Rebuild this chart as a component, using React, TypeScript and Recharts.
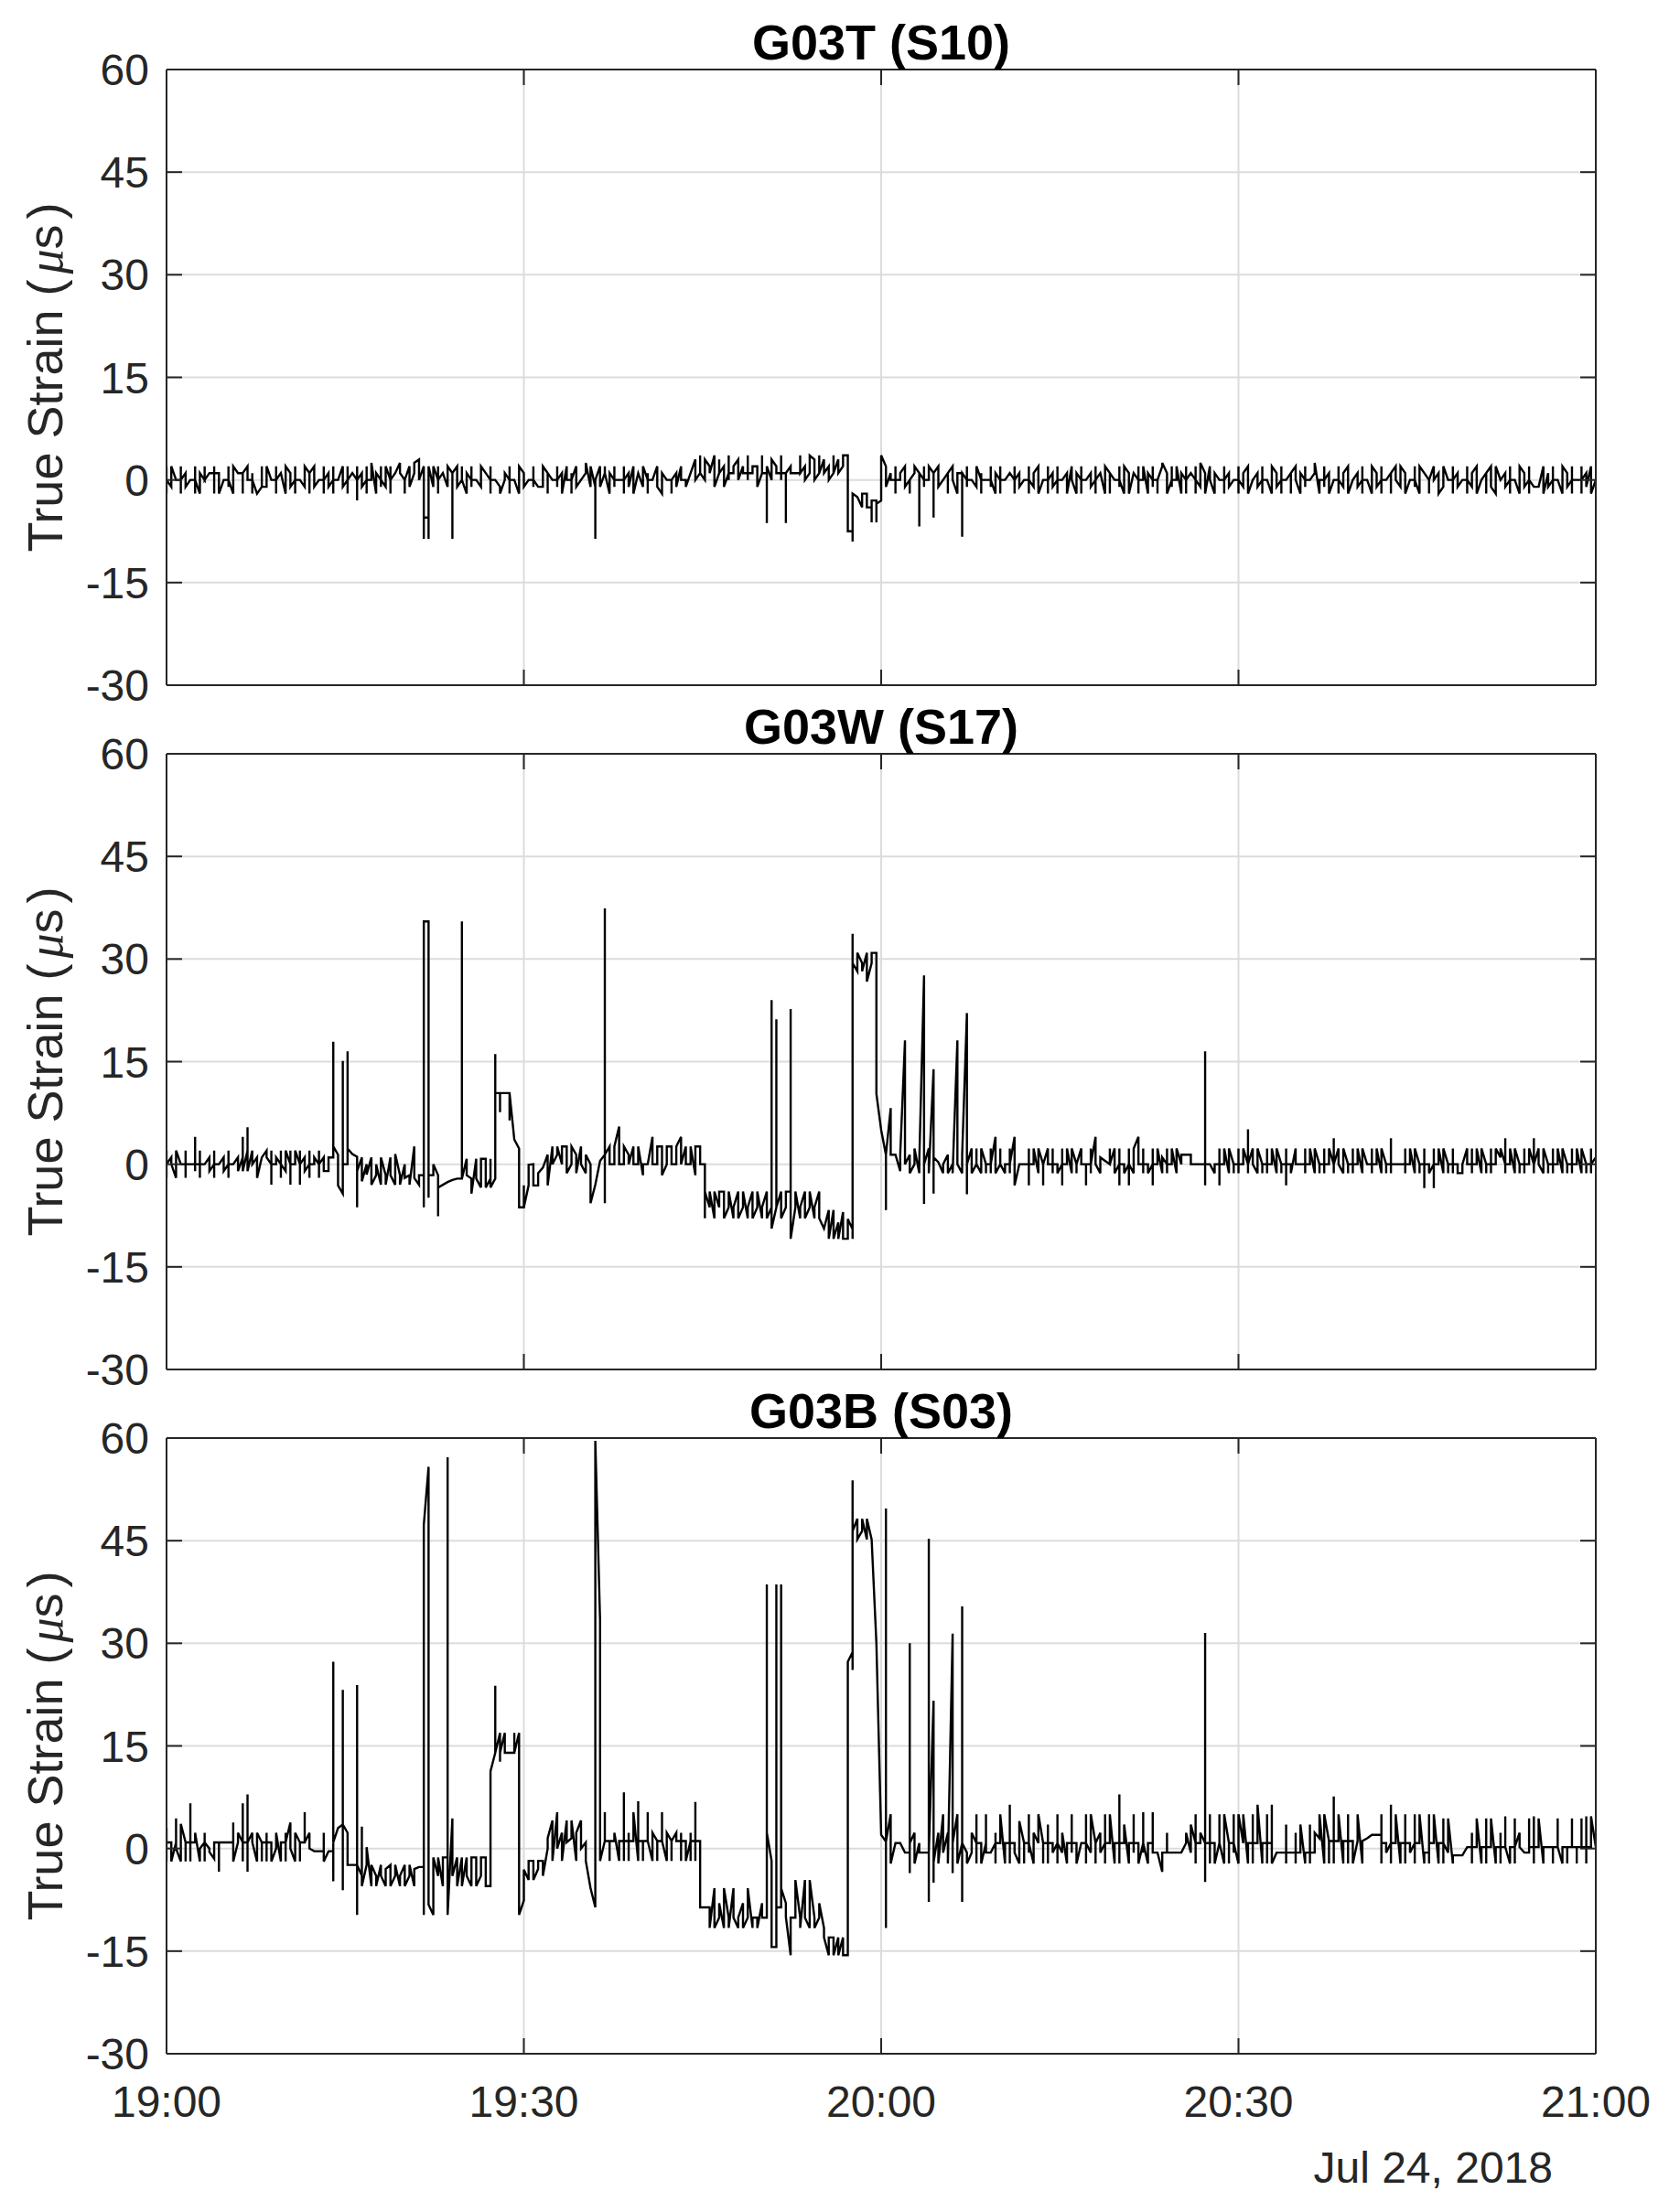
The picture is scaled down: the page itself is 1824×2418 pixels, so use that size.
import React from 'react';
import { LineChart, Line, XAxis, YAxis, CartesianGrid } from 'recharts';

type Entry = number | number[];

// ---- tick labels / titles ----
const xTicks = [0, 75, 150, 225, 300]; // sample index (one sample step = 0.4 min)
const xTickLabels = ['19:00', '19:30', '20:00', '20:30', '21:00'];
const yTicks = [-30, -15, 0, 15, 30, 45, 60];
const panelTitles = ['G03T (S10)', 'G03W (S17)', 'G03B (S03)'];
const yLabelBefore = 'True Strain (';
const yLabelMu = 'μ';
const yLabelAfter = 's';
const dateLabel = 'Jul 24, 2018';

// ---- series values: one entry per time step; an array = several readings at the same step ----
const strainT: Entry[] = [
  [0,2,-2,0], [-1,2], 0, [0,2,-2,0], [1,-1], 0, [0,2,-2,0], [-2,1], [0,2,0], 1,
  [1,2,-2,1], [1,-2], 0, [0,2,-1,0], [-2,2], 1, [1,-2,1], [2,0], [0,1,-2,0], -2,
  [-1,2,-1], [-1,2], 0, [0,2,-2,0], 1, [-2,2], [1,-1], [0,2,-2,0], 0, [-1,2],
  [1,-2,1], [2,-1], 0, [0,-2,2,0], [1,-1], [0,2,-2,0], 0, [2,-1], [0,-2,2,0], 1,
  [0,-3,2,0], [1,-1], [0,2,-2,0], [0,2.5], [-2,1], [0,2,-1,0], [-1,2], [0,2,-2,0], 1, [2.5,1],
  [0,-2,0], [2,-1], [1,2.5], [3,0], [2,-8.6,-5.5], [-5.5,-8.6,2], [-1,2], [0,2,-2,0], 1, [-1,2],
  [1,-8.6,1], [2,-1], [0,2,0], [-2,1], [0,2,-1,0], 0, [-1,2], 1, [0,2,-2,0], 0,
  [-1,-2], [0,1], [0,2,-2,0], 0, [-2,2], [1,-1], 0, [0,2,-1,0], -1, [-1,2],
  [1,-2,1], 0, [0,2,-1,0], [1,-2], [2,0], [0,-2,1,0], [2,-1], 0, [1,2.5], [-1,2],
  [-1,-8.6,0], [2,-1], [1,2,1], [-2,1], [0,2,-1,0], 0, [0,2,-2,0], [1,-1], [2,-2], 1,
  [-1,2], [0,1,-2,0], 0, [2,-1], [-2,1], 0, [0,-2,0], [1,-1], [2,0], [0,-1],
  1, [3,0], [1,3.6,1], [0,3], [2,1], [3.6,-1], [1,3,1], [2,-1], [1,3.6,0,1], [1,2],
  [3,0], [2,1], [1,3.6,0,1], [1,2], [2,-1], [1,3.6,1], [1,-6.3,2], [0,3], [2,1], [1,3.6,0,1],
  [1,-6.3,1], [2,1], 1, [1,3.6,1], [2,0], [1,3.6], [3,0], [1,3.6,1], [3,1], [2,0],
  [1,3.6,1], [3,1], [2,3.6], [3.6,-7.5], [-7.5,-9,-2], -2.5, [-4,-2], [-2,-4], [-4,-6.2,-3], [-3,-6.2,-3.5],
  [-3,3.6], [2,-1], [1,0], [0,2,-2,0], [0,1], [2,-1], [0,-2,0], [1,2], [1,-6.8,1], [0,2,-1,0],
  [0,2], [1,-5.5,1], [2,-1], 0, [1,-2,1], [2,0], [-2,1], [1,-8.3,1], [0,2,-1,0], 0,
  [-1,2], [0,1,-2,0], 0, [0,2,-1,0], [-2,1], [0,2,-2,0], 0, 1, [0,2,-2,0], [1,-1],
  0, [0,2,-2,0], [-1,1], [2,-2], 0, [0,-2,2,0], [1,-1], [0,2,-2,0], 0, [1,-2],
  [2,0], [-2,1], [0,2,-2,0], 0, [1,-1], [0,2,-2,0], 1, [-2,2], [1,-2,1], 0,
  [0,2,-1,0], [-2,2], [1,-2], 1, [0,2,-2,0], [0,2], [-2,1], [0,2,-1,0], [0,-2,0], [2,2.5],
  [1,-2], [0,2,-1,0], [0,2], [-2,1], [0,2,-2,0], 1, [0,2,-2,0], [-1,2.5], [1,-2], [2,0],
  [-2,1], 0, [0,2,-2,0], [1,-1], 0, [0,2,-2,0], [-1,1], [2,-2], 0, [1,-1],
  [0,2,-2,0], 0, [-2,2], [1,-1], [0,2,-2,0], 0, [1,-2,1], [2,0], [-2,1], [0,2,-1,0],
  0, [1,2.5], [-2,0], [0,2,-1,0], [1,-2], 0, [0,2,-2,0], [-1,1], [2,-2], 0,
  [1,-1], [0,2,-2,0], 0, [-2,2], [1,-1], [0,2,-2,0], 0, [1,-2,1], [2,0], [-1,2],
  [1,-2], 0, [0,2,-1,0], [-2,2], 1, [0,-2,0], [2,0], [1,-2], [-1,2], 0,
  [0,2,-2,0], [1,-1], 0, [0,2,-2,0], [-1,1], [2,-2], 0, [1,-2,1], [2,-1], [-2,2],
  0, [1,-1], [0,2,-2,0], 0, [-2,2], [1,-1], [0,2,-2,0], -1, -1, [2,-2],
  [1,-1], [0,2,-2,0], 0, [-2,2], [1,-1], [0,2,-2,0], 0, [0,2,-2,0], [1,-1], [2,-2],
  0,
];

const strainW: Entry[] = [
  [0,2,-2,0], [1,0], [-2,2], 0, [0,2,-2,0], 0, [0,4,-1,0], [0,2,-2,0], 0, [1,-1],
  [0,2,-2,0], 0, [1,-1], [0,2,-2,0], 0, [1,-1], [1,4,-1], [2,5.4,-1], [2,0], [1,-2],
  [1,1], [2,1], [0,-3,2,0], [0,1], [0,2,-2,0], [-1,2], [0,2,-3,0], [0,2], [0,2,-3,0], [1,-1],
  [0,2,-2,0], [0,1], [0,2,-2,0], [1,-1], [-1,1], [1,17.9,2.6], [1.4,-3.1], [-4.3,15.1,0], [0,16.5,2.3], 1.5,
  [1.1,-6.3,-1], [1,-2.5], [0,-1.5], [1,-3], [-1.6,0], [-3,1], [-1.6,-3], [1,-1.6], [-3,1.5], [-1.6,-3],
  [0,-2], [-1.6,-3], [2.6,-2], [-3,-1.6], [-1.6,-6.3,35.5], [35.5,-4.9,-1.6], [-1.6,0], [-1.6,-7.6,-3.4], -3, -2.6,
  -2.3, -2.1, [-2.1,35.5,-2.1], [0.8,-1.6], [-2.1,-4.3], [0.8,-2.1], [-3.4,0.8], [0.8,-3.4], [-2.1,0.8,-3.4], [-2.1,16.1,10.4],
  [10.4,7.6,10.4], 10.4, [10.4,6.4,10.4], 3.6, [2.3,-6.3], [-6.3,-3.1,-6.3], [-3.1,-0.1], [0,-3.1], [-3.1,-1.3], -0.5,
  [1.4,-3.1], [2.6,0], [1.4,2.6], [0,2.6], [2.6,-1.3], [0,2.6], [1.4,-1.3], [2.6,0], [-1.3,1.4], [0,-5.7],
  -3, 0.5, [1.4,37.4,-5.7,1.4], [2.6,0], [0,2.6], [5.5,0], [0,2.6], [1.4,0], [2.6,0], [0,2.6],
  [-1.6,0], 0, [4,0], [0,2.6], [2.6,-1.6], [0,2.6], [2.6,0], [0,2.6], [4,0], [2.6,0],
  [0,2.6], [-1.6,2.6], [2.6,0], [0,-7.9,-4], [-6.3,-4], [-7.9,-4], [-6.3,-4], [-4,-7.9], [-6.3,-4], [-7.9,-6.3],
  [-4,-7.9], [-6.3,-4], [-7.9,-6.3], [-4,-7.9], [-6.3,-4], [-7.9,-6.3], [-4,-7.9], [-6.3,24,-9.4], [-6.3,21.2,-6.3], [-4,-7.9],
  [-6.3,-4], [-4,22.7,-10.9], [-6.3,-4], [-7.9,-6.3], [-4,-7.9], [-6.3,-4], [-7.9,-6.3], [-4,-7.9], -9.4, [-6.7,-10.9],
  [-6.7,-10.9], [-8.5,-10.9], [-7,-10.9], [-10.9,-8], [-9.5,-10.9,33.7,29.4], [28.2,30.9], [29.4,28.2], [30.9,26.7], [29.4,30.9], [30.9,10.3],
  5, [1.4,-6.7,1.4], [8.2,1.4], 1.4, [-1,1.4], [18.1,0], [1.4,-1.3], [0,2.3], [-1.3,0.5], [27.6,-5.8,0],
  [2.3,-1.3], [13.9,-4.3,1], 0.3, [-1.3,0], [1.4,-1.3], [0,-1.3], [18.1,0], [-1.3,1.4], [22.1,-4.4,0], [2.3,-1.3],
  [0,2.3,0], [-1.3,2.3], [0,-1.3,0], [0,2.3,-1.3,0], [4,-1.3], [0,2.3,0], [-1.3,0], [0,2.3,-1.3,0], [4,-3.1], 0,
  0, [0,2.3,-3.1,0], [0,2.3], [-1.3,2.3], [0,-3.1,0], [2.3,0], [0,-1.3,2.3,0], [0,-1.3], [0,2.3,-3.1,0], [0,2.3],
  [-1.3,2.3], [0,-1.3,0], [2.3,0], [0,-3.1,0], [0,-1.3,2.3,0], [4,0], [-1.3,1], 0.5, [0,2.3,0], [2.3,-1.3],
  [0,-3.1,2.3,0], [0,-1.3], [0,2.3,-3.1,0], [-1.3,2.3], [4,0], [0,-1.3,2.3,0], [0,-1.3], [0,2.3,-3.1,0], [0,2.3], [-1.3,1],
  [0,2.3,-1.3,0], [0,2.3], [-1.3,2.3], [0,1.4], 1.4, [1.4,0], 0, 0, [0,16.5,-3.1,0], 0,
  [-1.3,0], [0,2.3,-3.1,0], [0,2.3], [-1.3,2.3], [0,-1.3,0], [0,2.3,-1.3,0], [0,2.3], [0,5.1,-1.3,0], [2.3,0], [-1.3,2.3],
  [0,-1.3,0], [0,2.3,-1.3,0], [0,2.3], [-1.3,2.3], [0,-1.3,0], [0,2.3,-3.1,0], [0,-1.3], [2.3,0], 0, [0,2.3,-1.3,0],
  [0,2.3], [-1.3,2.3], [0,-1.3,0], [0,2.3,-1.3,0], [0,2.3], [0,3.8,-1.3,0], [2.3,0], [-1.3,2.3], [0,-1.3,0], [0,2.3,-1.3,0],
  [0,2.3], [-1.3,2.3], 0, [0,2.3,-1.3,0], [0,2.3], [-1.3,2.3], [0,-1.3,0], [0,3.8,-1.3,0], 0, 0,
  [0,2.3,-1.3,0], [0,2.3], [-1.3,2.3], [0,-1.3,0], [0,2.3,-3.5,0], [0,-1.3], [0,2.3,-3.5,0], [0,2.3], [-1.3,2.3], [0,-1.3,0],
  [0,2.3,-1.3,0], [0,-1.3], [-1.3,0], [2.3,0], [0,2.3,-1.3,0], [0,2.3], [-1.3,2.3], [0,-1.3,0], [0,2.3,-1.3,0], [0,2.3],
  [1,2.3], [0,3.8,-1.3,0], [0,2.3], [-1.3,2.3], [0,-1.3,0], [0,2.3,-1.3,0], [0,2.3], [0,3.8,-1.3,0], [2.3,0], [-1.3,2.3],
  [0,-1.3,0], [0,2.3,-1.3,0], [0,2.3], [-1.3,2.3], [0,-1.3,0], [0,2.3,-1.3,0], [0,2.3], [-1.3,2.3], [0,-1.3,0], [0,2.3,-1.3,0],
  1,
];

const strainB: Entry[] = [
  [0.9,3,-1.9,0.9], [0.9,-1.9], [0.9,4.4,0], [-1.9,3.6], [0.9,-1.9,0.9], [0.9,6.6,-1.9,0.9], [0.9,2.3], [-1.9,0], [0.9,2.3,-1.9,0.9], [0,-0.5],
  [-1.5,0.9], [0.9,-3.4,0.9], 0.9, 0.9, [0.9,3.8,-1.9], [0.9,2.3], [0.9,6.6,-1.9,0.9], [0.9,7.9,-3.4,0.9], [2.3,0.9], [-1.9,2.3],
  [0.9,-1.9,0.9], [0.9,2.3,-1.9,0.9], [0.9,-1.9], [0,2.3], [-1.9,0.9], [0.9,2.3,-1.9,0.9], [3.8,0], [-1.9,2.3], [0.9,-1.9,0.9], [0.9,5.3,0.9],
  [2.3,0], -0.4, -0.4, [-0.4,2.3,-1.9], -0.4, [-0.4,-4.8,27.3,0.9], 3, [3.5,23.2,-6.1,3.5], [2.3,-2.4], -2.4,
  [-2.4,23.9,-9.7,-2.4], [-4,3.2,-5.5], [-2.4,0.2], [-5.5,-2.4], [-4,-5.5], [-2.4,-4], [-5.5,-3], [-2.4,-5.5], [-4,-2.4], [-5.5,-4],
  [-2.4,-5.5], [-4,-2.4], [-5.5,-3], -2.7, [-2.7,-9.7,47.3], [55.8,-8.2], [-9.7,-1.3], [-4,-1.3], [-5.5,-1.3], [-1.3,57.2,-9.7],
  [4.4,2.9,-4], [-1.3,-5.5], [-1.3,-5.5], [-1.3,-4], [-5.5,-1.3], [-1.3,-5.5], [-4,-1.3], [-1.3,-5.5], [-5.5,11.3], [14,23.8,14],
  [16.9,12.7,14], [16.9,14], 14, [14,16.9,14], [16.9,-9.7], [-7.6,-3.1], [-4.6,-1.8], [-1.8,-4.6], [-3,-1.8], [-1.8,-4],
  [0,1.5], [4.1,-1.8], [5.3,0], [2.3,-1.8], [4.1,0.9], [1.5,4.1], [-1.8,2.3], [4.1,0], [0.9,-1.8], -5.8,
  [-8.6,59.6], [33.3,-1.8], [1.1,5.3,1.1], [1.1,-1.8,1.1], [1.1,2.3], [-1.8,1.1], [1.1,8.2,-1.8,1.1], [1.1,2.3,-1.8,1.1], [1.1,5.3], [-1.8,6.9,1.1],
  [1.1,-1.8,1.1], [1.1,5.3,1.1], [-1.8,2.3], [1.1,-1.8,1.1], [1.1,5.3,1.1], [-1.8,2.3], [1.1,-1.8,1.1], [2.3,1.1], [1.1,-1.8,2.3,1.1], [1.1,-1.8],
  [1.1,2.3,-1.8,1.1], [1.1,6.8,-1.8,1.1], [1.1,-8.6], -8.6, [-8.6,-11.6], [-5.8,-11.6], [-10.1,-8], [-11.6,-5.8], [-10.1,-11.6], [-5.8,-10.1],
  [-11.6,-10.1], [-8,-11.6], [-10.1,-5.8], [-11.6,-10.1], [-10.1,-11.6], [-8,-10.1], [-10.1,38.6,2.3], [-1.8,-14.4], [-14.4,38.6,-8.6], [-8.6,38.6,-5.8],
  [-8,-10], [-15.6,-10.1], [-10.1,-4.6], [-10.1,-11.6], [-4.6,-10.1], [-11.6,-4.6], [-10.1,-11.6], [-10.1,-8], [-11.6,-13], [-15.6,-13],
  [-13,-15.6], [-13,-15.6], [-13,-15.6], [-15.6,27.3], [28.7,26.1,53.8,46.4], [48.2,45.2], [46.4,48.2], [45.2,48.2], 45.2, 30,
  2, [1,49.7,-11.6,1], [5,-2.2], 0.8, 0.8, -0.6, [-0.6,30,-3.6,0.8], [2.3,-2.2], [0.8,-0.6], -0.6,
  [-0.6,45.3,-7.8,-0.6], [21.6,-5,-2], [2.3,-2.2], [5,-0.6], [2.3,-2.2], [31.4,-3.6,0.8], [5,-2.2], [0.8,35.4,-7.8,0.8], [-0.6,-2.2], [-0.6,2.3],
  [0.8,-2.2,5,0.8], [0.8,-2.2], [0.8,5,-0.6], -0.6, [0.8,2.3,-2.2,0.8], [0.8,5], [-2.2,0.8], [0.8,6.4,-2.2,0.8], [0.8,-0.6], [-2.2,4],
  [0.8,-2.2,0.8], [0.8,5,-0.6,0.8], [-2.2,2.3], [0.8,5], [0.8,-2.2,0.8], [0.8,3.5,-2.2,0.8], [0.8,-0.6], [0.8,5,-2.2,0.8], [-0.6,2.3], [-2.2,0.8],
  [0.8,5,-0.6,0.8], [0.8,-2.2], 0.8, [0.8,5,-2.2,0.8], [-0.6,5], [0.8,-2.2,0.8], [2.3,-0.6], [0.8,5,-2.2,0.8], [0.8,5], [-2.2,0.8],
  [0.8,7.9,-2.2,0.8], [0.8,3.5], [-2.2,0.8], [0.8,5,-0.6,0.8], [0.8,-2.2], [0.8,5.3,-0.6,0.8], [-2.2,0.8], [0.8,5.3,-0.6], -0.6, [-3.4,-0.6],
  [-0.6,2.3,-0.6], -0.6, -0.6, -0.6, [0.8,2.3], [-0.6,3.5], [0.8,5,-2.2,0.8], [0.8,2.3], [0.8,31.5,-4.9,0.8], [0.8,-2.2,5,0.8],
  [0.8,-2.2], [0.8,5,0.8], [-2.2,5], [0.8,-2.2,0.8], [0.8,5,-0.6,0.8], [-2.2,5], [0.8,5], [-2.2,0.8], [0.8,5,-2.2,0.8], [0.8,6.4],
  [-2.2,0.8], [0.8,5,-2.2,0.8], [0.8,6.4,-2.2], -0.6, -0.6, [-0.6,3.5,-2.2,-0.6], -0.6, [-0.6,2.3,-2.2,-0.6], [-0.6,3.5], [-2.2,-0.6],
  [-0.6,3.5,-2.2,-0.6], [-0.6,2.3], [1.5,5], [-2.2,5], [1.1,-2.2,1.1], [1.1,7.6,-2.2,1.1], [1.1,5], [-2.2,1.1], [1.1,5,-2.2,1.1], [1.1,-2.2],
  [1.1,5], [-2.2,1.1], 1.5, 2, 2, [2,5,-2.2,0.8], [0.8,-0.6], [0.8,6.4,-2.2,0.8], [0.8,5], [-2.2,0.8],
  [0.8,5,-2.2,0.8], [0.8,-0.6], [0.8,5,-2.2,0.8], [0.8,5], [-2.2,-0.6], [-0.6,5,-2.2,0.8], [0.8,5], [-2.2,0.8], [0.8,4.4,-2.2,0.8], [-0.6,4.4],
  [-2.2,-1], -1, -1, 0.2, [0.2,2.3,-2.2,0.2], [0.2,4.4], [-2.2,0.2], [0.2,4.4,-2.2,0.2], [0.2,4.4], [-2.2,0.2],
  [0.2,2.3,-2.2,0.2], [0.2,4.7,0.2], [-2.2,0.2], [0.2,4.4,-2.2,0.2], [2.3,0.2], -0.6, [-0.6,4.4,0.2], [0.2,4.7,-2.2,0.2], [0.2,4.4], [-2.2,0.2],
  0.2, [0.2,-2.2,0.2], [0.2,4.4,0.2], [-2.2,0.2], [0.2,-2.2,0.2], [0.2,4.4,0.2], [0.2,-2.2,0.2], [0.2,4.4,0.2], [0.2,4.7,-2.2,0.2], [0.2,4.7],
  0.2,
];

const panelSeries: Entry[][] = [strainT, strainW, strainB];

// ---- layout ----
const PAGE_W = 1824;
const PAGE_H = 2418;
const PLOT_LEFT = 182;
const PLOT_RIGHT = 1744;
const PLOT_TOPS = [76, 824, 1572];
const PLOT_H = 673;
const ABOVE = 76;
const FONT = '"Liberation Sans", Arial, Helvetica, sans-serif';
const AXIS_COLOR = '#262626';
const GRID_COLOR = '#dcdcdc';

function buildRows(entries: Entry[]) {
  const rows: { x: number; y: number }[] = [];
  entries.forEach((e, i) => {
    const vals = Array.isArray(e) ? e : [e];
    vals.forEach((v) => rows.push({ x: i, y: v }));
  });
  return rows;
}

const axisLineStyle = { stroke: AXIS_COLOR, strokeWidth: 2 };
const tickFont = { fill: AXIS_COLOR, fontSize: 48, fontFamily: FONT };
const blank = () => '';

function Panel({ entries, plotTop, showXLabels }: { entries: Entry[]; plotTop: number; showXLabels: boolean }) {
  const rows = buildRows(entries);
  const bottomH = showXLabels ? 150 : 40;
  const height = ABOVE + PLOT_H + bottomH;
  return (
    <div style={{ position: 'absolute', left: 0, top: plotTop - ABOVE, width: PAGE_W, height }}>
      <LineChart width={PAGE_W} height={height} data={rows} margin={{ top: ABOVE - 2, right: 0, bottom: 0, left: 0 }}>
        <CartesianGrid stroke={GRID_COLOR} strokeWidth={2} />
        <XAxis
          dataKey="x"
          type="number"
          domain={[0, 300]}
          ticks={xTicks}
          interval={0}
          allowDataOverflow
          tickFormatter={showXLabels ? (v: number) => xTickLabels[xTicks.indexOf(v)] ?? '' : blank}
          height={bottomH}
          tickSize={-17}
          tickMargin={52}
          axisLine={axisLineStyle}
          tickLine={axisLineStyle}
          tick={tickFont}
        />
        <XAxis
          xAxisId="top"
          dataKey="x"
          orientation="top"
          type="number"
          domain={[0, 300]}
          ticks={xTicks}
          interval={0}
          allowDataOverflow
          height={2}
          tickSize={-17}
          axisLine={axisLineStyle}
          tickLine={axisLineStyle}
          tickFormatter={blank}
          tick={tickFont}
        />
        <YAxis
          type="number"
          domain={[-30, 60]}
          ticks={yTicks}
          interval={0}
          allowDataOverflow
          width={PLOT_LEFT}
          tickSize={-17}
          tickMargin={36}
          axisLine={axisLineStyle}
          tickLine={axisLineStyle}
          tick={tickFont}
        />
        <YAxis
          yAxisId="right"
          orientation="right"
          type="number"
          domain={[-30, 60]}
          ticks={yTicks}
          interval={0}
          allowDataOverflow
          width={PAGE_W - PLOT_RIGHT}
          tickSize={-17}
          axisLine={axisLineStyle}
          tickLine={axisLineStyle}
          tickFormatter={blank}
          tick={tickFont}
        />
        <Line
          type="linear"
          dataKey="y"
          stroke="#000000"
          strokeWidth={2.4}
          dot={false}
          activeDot={false}
          isAnimationActive={false}
        />
      </LineChart>
    </div>
  );
}

export default function App() {
  const cx = (PLOT_LEFT + PLOT_RIGHT) / 2;
  return (
    <div style={{ position: 'absolute', left: 0, top: 0, width: PAGE_W, height: PAGE_H, background: '#ffffff', overflow: 'hidden' }}>
      {panelSeries.map((s, k) => (
        <Panel key={k} entries={s} plotTop={PLOT_TOPS[k]} showXLabels={k === panelSeries.length - 1} />
      ))}
      <svg width={PAGE_W} height={PAGE_H} style={{ position: 'absolute', left: 0, top: 0, pointerEvents: 'none' }}>
        {PLOT_TOPS.map((t, k) => {
          const cy = t + PLOT_H / 2;
          return (
            <g key={k}>
              <text x={cx} y={t - 11} textAnchor="middle" fontFamily={FONT} fontWeight="bold" fontSize={54} fill="#000000">
                {panelTitles[k]}
              </text>
              <text
                transform={`rotate(-90 68 ${cy})`}
                x={68}
                y={cy}
                textAnchor="middle"
                fontFamily={FONT}
                fontSize={54}
                fill={AXIS_COLOR}
              >
                {yLabelBefore}
                <tspan dx={6} fontFamily='"Liberation Serif", "DejaVu Serif", serif' fontStyle="italic">{yLabelMu}</tspan>
                <tspan fontFamily={FONT}>{yLabelAfter}</tspan>
                <tspan dx={6}>)</tspan>
              </text>
            </g>
          );
        })}
        <text x={1697} y={2386} textAnchor="end" fontFamily={FONT} fontSize={48} fill={AXIS_COLOR}>
          {dateLabel}
        </text>
      </svg>
    </div>
  );
}
